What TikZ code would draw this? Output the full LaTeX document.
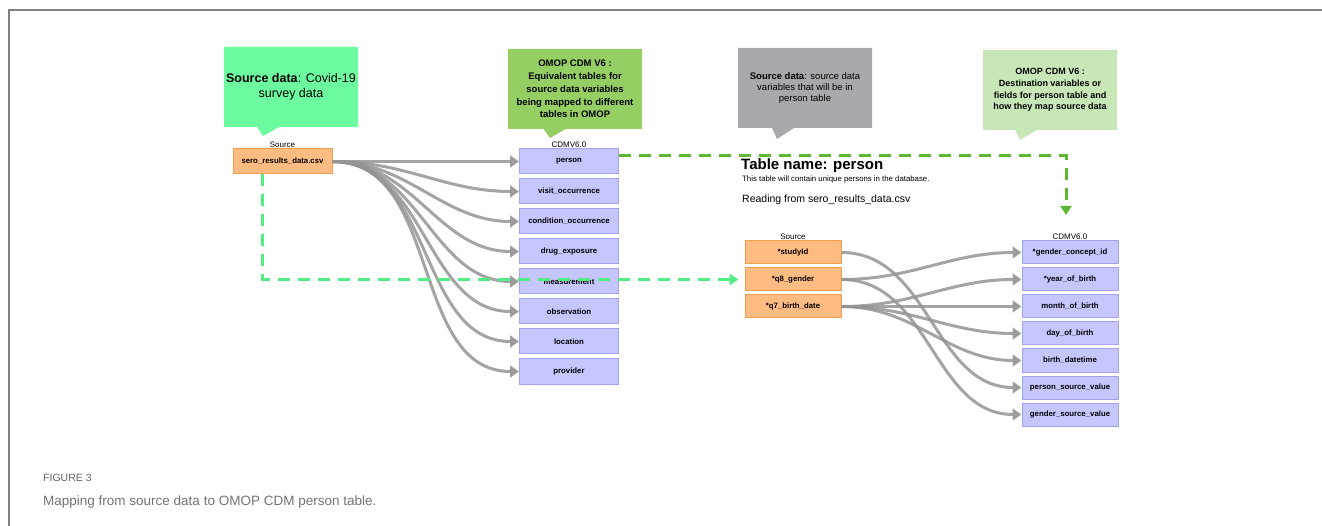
\documentclass[tikz,border=0pt]{standalone}
\usepackage{fontspec}
\setmainfont{Liberation Sans}
\usepackage{tikz}
\usetikzlibrary{arrows.meta,shapes.callouts,calc,positioning}
\definecolor{srcfill}{HTML}{FFBC82}
\definecolor{srcline}{HTML}{F59D4C}
\definecolor{cdmfill}{HTML}{C6C6FF}
\definecolor{cdmline}{HTML}{A2A2F2}
\definecolor{mint}{HTML}{6CFB9E}
\definecolor{leaf}{HTML}{95CF63}
\definecolor{pale}{HTML}{C7E8B6}
\definecolor{slate}{HTML}{A9A8AD}
\definecolor{dashmint}{HTML}{52EC84}
\definecolor{dashleaf}{HTML}{5EB730}
\newcommand{\clrmap}{black!42}
\newcommand{\clrframe}{black!50}

\begin{document}
\begin{tikzpicture}[x=1pt, y=-1pt,
    srcbox/.style={draw=srcline, fill=srcfill, line width=1pt, minimum width=99pt, minimum height=25pt, inner sep=0pt, font=\fontsize{7.8}{9}\selectfont\bfseries},
    cdmbox/.style={srcbox, draw=cdmline, fill=cdmfill},
    head/.style={font=\fontsize{8}{9}\selectfont},
    note/.style={rectangle callout, callout pointer width=22pt, minimum width=134pt, minimum height=80pt, inner sep=2pt, align=center},
    map/.style={draw=\clrmap, line width=3pt, opacity=.85, -{Triangle[length=9pt,width=12pt]}},
    link/.style={line width=3pt, dash pattern=on 12pt off 8pt}
]
    \useasboundingbox (0,0) rectangle (1322,526);
    \draw[\clrframe, line width=1.5pt] (9,526) -- (9,10) -- (1322,10);

    \node[note, fill=mint, callout absolute pointer={(263,136)}, font=\fontsize{12.5}{15}\selectfont] (call1) at (291,87) {\textbf{Source data}: Covid-19\\survey data};
    \node[note, fill=leaf, callout absolute pointer={(550,138)}, font=\fontsize{9.5}{12.8}\selectfont\bfseries] (call2) at (575,89) {OMOP CDM V6 :\\Equivalent tables for\\source data variables\\being mapped to different\\tables in OMOP};
    \node[note, fill=slate, callout absolute pointer={(777,139)}, font=\fontsize{9.5}{10.6}\selectfont] (call3) at (805,88) {\textbf{Source data}: source data\\variables that will be in\\person table};
    \node[note, fill=pale, callout absolute pointer={(1020,140)}, font=\fontsize{9}{11.6}\selectfont\bfseries] (call4) at (1050,90) {OMOP CDM V6 :\\Destination variables or\\fields for person table and\\how they map source data};

    \node[srcbox] (sero) at (282.5,161.5) {sero\_results\_data.csv};
    \node[head, above=0pt of sero, inner sep=1pt] (srchead) {Source};
    \foreach \name [count=\i] in {person, visit\_occurrence, condition\_occurrence, drug\_exposure, measurement, observation, location, provider} {
        \node[cdmbox] (tab\i) at (569,{161.5+30*(\i-1)}) {\name};
    }
    \node[head, above=0pt of tab1, inner sep=1pt] (cdmhead) {CDMV6.0};
    \foreach \i in {1,...,8} {
        \draw[map] (sero.east) to[out=0, in=180] (tab\i.west);
    }

    \node[anchor=base west, inner sep=0pt, font=\fontsize{15}{17}\selectfont\bfseries] (tname) at (741,170) {Table name: person};
    \node[anchor=base west, inner sep=0pt, font=\fontsize{7.8}{9}\selectfont] (tdesc) at (742,182) {This table will contain unique persons in the database.};
    \node[anchor=base west, inner sep=0pt, font=\fontsize{10.5}{12}\selectfont] (tread) at (742,203) {Reading from sero\_results\_data.csv};

    \foreach \name [count=\i] in {*studyId, *q8\_gender, *q7\_birth\_date} {
        \node[srcbox, minimum width=96pt, minimum height=23pt] (p\i) at (793,{252.5+27*(\i-1)}) {\name};
    }
    \node[head, above=0pt of p1, inner sep=1pt] (phead) {Source};
    \foreach \name [count=\i] in {*gender\_concept\_id, *year\_of\_birth, month\_of\_birth, day\_of\_birth, birth\_datetime, person\_source\_value, gender\_source\_value} {
        \node[cdmbox, minimum width=96pt, minimum height=23pt] (d\i) at (1070,{252.5+27*(\i-1)}) {\name};
    }
    \node[head, above=0pt of d1, inner sep=1pt] (dhead) {CDMV6.0};
    \foreach \a/\b in {2/1, 3/2, 3/3, 3/4, 3/5, 1/6, 2/7} {
        \draw[map] (p\a.east) to[out=0, in=180] (d\b.west);
    }

    \coordinate (drop) at (1066,215);
    \draw[link, dashmint, -{Triangle[length=9pt,width=11pt]}] ([xshift=-20pt]sero.south) |- ([xshift=-6pt]p2.west);
    \draw[link, dashleaf, -{Triangle[length=9pt,width=11pt]}] ([yshift=6pt]tab1.east) -| (drop);

    \node[anchor=base west, inner sep=0pt, text=black!62, font=\fontsize{10.5}{12}\selectfont] (fig) at (43,481) {FIGURE 3};
    \node[anchor=base west, inner sep=0pt, text=black!55, font=\fontsize{13.5}{16}\selectfont] (caption) at (43,505) {Mapping from source data to OMOP CDM person table.};
\end{tikzpicture}
\end{document}
